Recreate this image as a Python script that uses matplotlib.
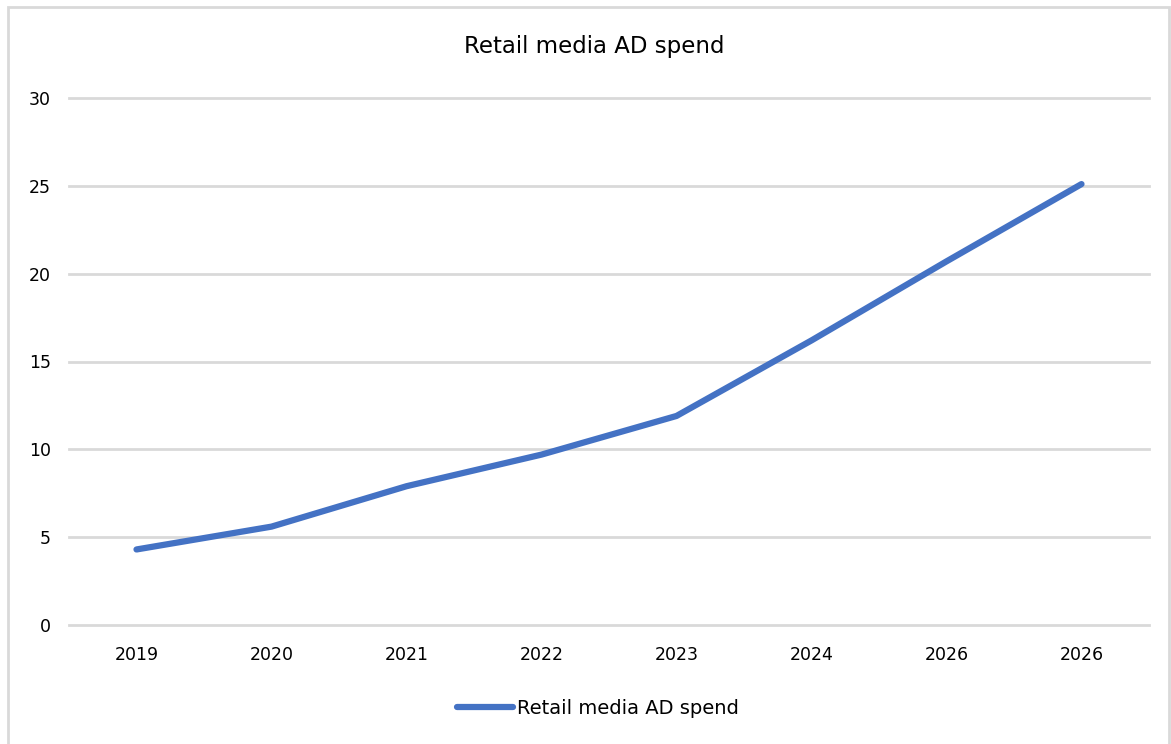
import matplotlib
matplotlib.use("Agg")
import matplotlib.pyplot as plt
from matplotlib.patches import Rectangle

categories = ["2019", "2020", "2021", "2022", "2023", "2024", "2026", "2026"]
spend = [4.3, 5.6, 7.9, 9.7, 11.9, 16.2, 20.7, 25.1]
yticks = [0, 5, 10, 15, 20, 25, 30]
series_name = "Retail media AD spend"
title = "Retail media AD spend"

W, H = 1171, 744
fig = plt.figure(figsize=(W / 100, H / 100), dpi=100)
plt.rcParams['font.family'] = ['DejaVu Sans']

# outer chart border
fig.patches.append(Rectangle((8 / W, -0.01), (1169 - 8) / W, 1 - 7 / H + 0.01,
                             transform=fig.transFigure, fill=False,
                             edgecolor='#d9d9d9', linewidth=2))

ax = fig.add_axes([69 / W, 1 - 625 / H, (1149 - 69) / W, (625 - 98) / H])
x = list(range(len(categories)))
line, = ax.plot(x, spend, color='#4472C4', linewidth=4.5, solid_capstyle='round',
                solid_joinstyle='round', label=series_name, zorder=3)

ax.set_xlim(-0.5, len(categories) - 0.5)
ax.set_ylim(0, 30)
ax.set_yticks(yticks)
ax.set_xticks(x)
ax.set_xticklabels(categories)
ax.grid(axis='y', color='#d9d9d9', linewidth=2)
for gl in ax.get_ygridlines():
    gl.set_clip_on(False)
ax.set_axisbelow(True)
for s in ax.spines.values():
    s.set_visible(False)
ax.tick_params(axis='both', length=0, labelsize=12.5, colors='#000000')
ax.tick_params(axis='y', pad=13)
ax.tick_params(axis='x', pad=15)

fig.text(594 / W, 1 - 47 / H, title, ha='center', va='center', fontsize=16.5)

fig.legend(handles=[line], labels=[series_name], loc='center',
           bbox_to_anchor=(598 / W, 1 - 708 / H), frameon=False, fontsize=14,
           handlelength=2.9, handletextpad=0.2)

fig.savefig("out.png", dpi=100)
